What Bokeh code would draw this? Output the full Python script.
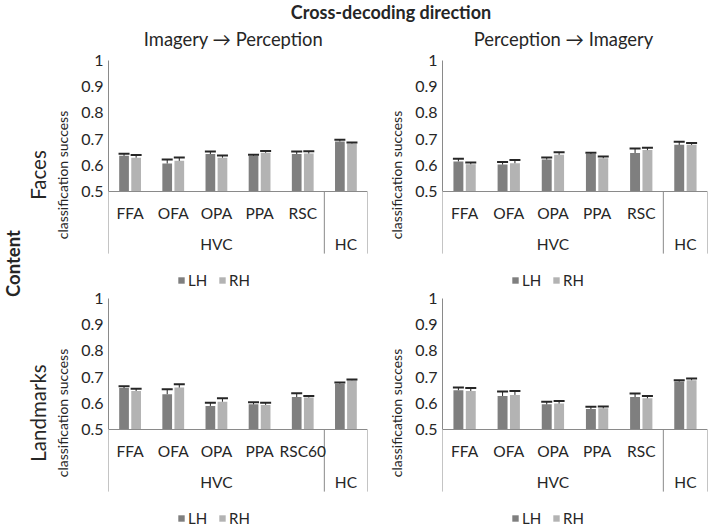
import math
from bokeh.plotting import figure
from bokeh.layouts import column, row
from bokeh.models import (Range1d, FactorRange, FixedTicker, LinearAxis, Span,
                          Whisker, TeeHead, ColumnDataSource, NumeralTickFormatter)
from bokeh.transform import dodge
from bokeh.core.properties import value
from bokeh.embed import file_html
from bokeh.resources import INLINE

# ---------------- data ----------------
regions = ["FFA", "OFA", "OPA", "PPA", "RSC", "HC"]
regions_lm_ip = ["FFA", "OFA", "OPA", "PPA", "RSC60", "HC"]
groups = ["HVC", "HC"]
hemis = ["LH", "RH"]
yticks = [0.5, 0.6, 0.7, 0.8, 0.9, 1.0]
col_titles = ["Imagery \u2192 Perception", "Perception \u2192 Imagery"]
row_titles = ["Faces", "Landmarks"]

faces_ip_lh = [0.636, 0.607, 0.643, 0.636, 0.643, 0.691]
faces_ip_lh_err = [0.008, 0.015, 0.010, 0.004, 0.010, 0.007]
faces_ip_rh = [0.629, 0.617, 0.629, 0.648, 0.645, 0.683]
faces_ip_rh_err = [0.010, 0.013, 0.008, 0.007, 0.009, 0.004]

faces_pi_lh = [0.615, 0.603, 0.622, 0.643, 0.647, 0.678]
faces_pi_lh_err = [0.010, 0.010, 0.008, 0.005, 0.017, 0.012]
faces_pi_rh = [0.604, 0.608, 0.640, 0.627, 0.658, 0.678]
faces_pi_rh_err = [0.007, 0.012, 0.010, 0.007, 0.009, 0.007]

lm_ip_lh = [0.658, 0.635, 0.590, 0.596, 0.624, 0.675]
lm_ip_lh_err = [0.007, 0.019, 0.012, 0.008, 0.014, 0.004]
lm_ip_rh = [0.647, 0.660, 0.606, 0.594, 0.622, 0.688]
lm_ip_rh_err = [0.009, 0.013, 0.013, 0.008, 0.006, 0.003]

lm_pi_lh = [0.650, 0.628, 0.596, 0.578, 0.624, 0.683]
lm_pi_lh_err = [0.010, 0.017, 0.010, 0.009, 0.013, 0.005]
lm_pi_rh = [0.647, 0.632, 0.599, 0.581, 0.619, 0.688]
lm_pi_rh_err = [0.011, 0.015, 0.010, 0.007, 0.009, 0.007]

# ---------------- style ----------------
FONT = "Lato"
TXT = "#262626"
AX_COL = "#8a8a8a"
LH_COL = "#7f7f7f"
RH_COL = "#b3b3b3"
ERR_COL = "#262626"
Y0 = 0.126
BOX_BOTTOM = 0.263
CAT_Y = 0.419
GRP_Y = 0.30
OFF = 0.14
BW = 0.225


def make_panel(regs, lh, lh_err, rh, rh_err, width, height, left, right, top,
               row_label=None, row_center=0.75):
    p = figure(x_range=FactorRange(*regs, range_padding=0), y_range=Range1d(Y0, 1.0),
               width=width, height=height, min_border_left=left, min_border_right=right,
               min_border_top=top, min_border_bottom=0,
               output_backend="svg", toolbar_location=None)
    p.xaxis.visible = False
    p.grid.visible = False
    p.outline_line_color = None

    src = ColumnDataSource(dict(
        region=regs, lh=lh, rh=rh,
        lh_hi=[v + e for v, e in zip(lh, lh_err)],
        rh_hi=[v + e for v, e in zip(rh, rh_err)],
    ))
    lx = dodge("region", -OFF, range=p.x_range)
    rx = dodge("region", OFF, range=p.x_range)
    p.vbar(x=lx, top="lh", bottom=0.5, width=BW, source=src,
           fill_color=LH_COL, line_color=None, legend_label=hemis[0])
    p.vbar(x=rx, top="rh", bottom=0.5, width=BW, source=src,
           fill_color=RH_COL, line_color=None, legend_label=hemis[1])
    for base, lo, hi in ((lx, "lh", "lh_hi"), (rx, "rh", "rh_hi")):
        p.add_layout(Whisker(base=base, lower=lo, upper=hi, source=src, dimension="height",
                             line_color=ERR_COL, line_width=1, lower_head=None,
                             upper_head=TeeHead(size=11, line_color=ERR_COL, line_width=2),
                             level="overlay"))

    # category box below the baseline
    n = len(regs)
    p.add_layout(Span(location=0.5, dimension="width", line_color=AX_COL, line_width=1))
    p.segment(x0=[0, n - 1, n], y0=[0.5, 0.5, 0.5], x1=[0, n - 1, n],
              y1=[BOX_BOTTOM] * 3, line_color=AX_COL, line_width=1)
    p.text(x=regs[:-1], y=[CAT_Y] * (n - 1), text=regs[:-1], text_align="center",
           text_baseline="middle", text_font=value(FONT), text_font_size="15.5px",
           text_color=TXT)
    p.text(x=[regs[(n - 1) // 2], regs[-1]], y=[GRP_Y, GRP_Y], text=groups,
           text_align="center", text_baseline="middle", text_font=value(FONT),
           text_font_size="15.5px", text_color=TXT)

    ax = p.yaxis[0]
    ax.ticker = FixedTicker(ticks=yticks)
    ax.formatter = NumeralTickFormatter(format="0.[0]")
    ax.bounds = (0.5, 1.0)
    ax.axis_line_color = AX_COL
    ax.major_tick_line_color = None
    ax.minor_tick_line_color = None
    ax.major_tick_out = 0
    ax.major_tick_in = 0
    ax.major_label_standoff = 5
    ax.major_label_text_font = FONT
    ax.major_label_text_font_size = "16px"
    ax.major_label_text_color = TXT
    ax.axis_label = "classification success"
    ax.axis_label_text_font = FONT
    ax.axis_label_text_font_size = "14px"
    ax.axis_label_text_font_style = "normal"
    ax.axis_label_text_color = TXT
    ax.axis_label_standoff = 7

    if row_label:
        ax2 = LinearAxis(axis_label=row_label, ticker=FixedTicker(ticks=[]),
                         bounds=(2 * row_center - 1.0, 1.0),
                         axis_line_color=None, major_tick_line_color=None,
                         minor_tick_line_color=None, major_label_text_font_size="0px",
                         major_tick_out=0, major_tick_in=0, major_label_standoff=0,
                         axis_label_standoff=2, axis_label_text_font=FONT,
                         axis_label_text_font_size="20.5px",
                         axis_label_text_font_style="normal", axis_label_text_color=TXT)
        p.add_layout(ax2, "left")

    lg = p.legend[0]
    lg.location = (69, 0)
    lg.orientation = "horizontal"
    lg.glyph_width = 8
    lg.glyph_height = 8
    lg.label_standoff = 3
    lg.spacing = 10
    lg.padding = 0
    lg.margin = 0
    lg.border_line_color = None
    lg.background_fill_alpha = 0
    lg.label_text_font = FONT
    lg.label_text_font_size = "15px"
    lg.label_text_color = TXT
    lg.label_height = 16
    return p


tl = make_panel(regions, faces_ip_lh, faces_ip_lh_err, faces_ip_rh, faces_ip_rh_err,
                348, 240, 80, 3, 11, row_titles[0], 0.704)
tr = make_panel(regions, faces_pi_lh, faces_pi_lh_err, faces_pi_rh, faces_pi_rh_err,
                339, 240, 72, 2, 11)
bl = make_panel(regions_lm_ip, lm_ip_lh, lm_ip_lh_err, lm_ip_rh, lm_ip_rh_err,
                348, 238, 80, 3, 9, row_titles[1], 0.798)
br = make_panel(regions, lm_pi_lh, lm_pi_lh_err, lm_pi_rh, lm_pi_rh_err,
                339, 238, 72, 2, 9)

hdr = figure(width=709, height=49, x_range=Range1d(0, 709), y_range=Range1d(0, 49),
             x_axis_type=None, y_axis_type=None, min_border=0,
             output_backend="svg", toolbar_location=None)
hdr.grid.visible = False
hdr.outline_line_color = None
hdr.text(x=[390.5], y=[38], text=["Cross-decoding direction"], text_align="center",
         text_baseline="middle", text_font=value(FONT), text_font_size="18px",
         text_font_style="bold", text_color=TXT)
hdr.text(x=[233, 563], y=[10.5, 10.5], text=col_titles, text_align="center",
         text_baseline="middle", text_font=value(FONT), text_font_size="18.4px",
         text_color=TXT)

side = figure(width=22, height=478, x_range=Range1d(0, 22), y_range=Range1d(0, 478),
              x_axis_type=None, y_axis_type=None, min_border=0,
              output_backend="svg", toolbar_location=None)
side.grid.visible = False
side.outline_line_color = None
side.text(x=[12], y=[264], text=["Content"], angle=math.pi / 2, text_align="center",
          text_baseline="middle", text_font=value(FONT), text_font_size="18.5px",
          text_font_style="bold", text_color=TXT)

layout = column(hdr, row(side, column(row(tl, tr), row(bl, br))))

with open("out.html", "w") as f:
    f.write(file_html(layout, INLINE))
